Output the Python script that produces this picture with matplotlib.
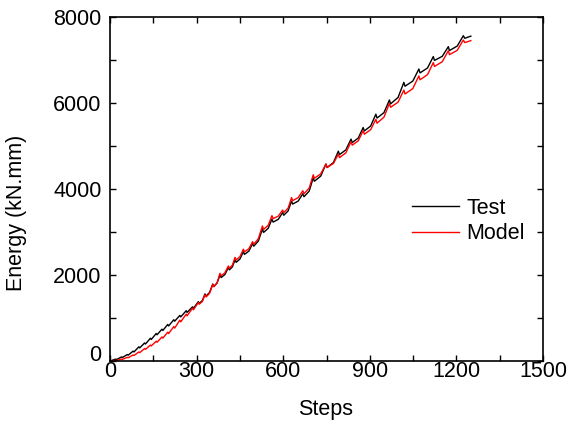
import numpy as np
import matplotlib
matplotlib.use("Agg")
import matplotlib.pyplot as plt
from matplotlib.ticker import MultipleLocator

plt.rcParams['font.family'] = ['Liberation Sans', 'DejaVu Sans']

#### Donnees : energie cumulee (kN.mm) en fonction du pas ####

# essai (Test) : pics, creux et montee de chaque cycle
steps_test = [0,
              20, 23, 40, 43, 60, 63, 80, 83, 100, 103, 120, 123, 140, 143,
              160, 163, 180, 183, 200, 203, 221, 224, 242, 245, 264, 267,
              286, 289, 306, 309, 320,
              329, 333, 345, 356, 360, 371, 381, 385, 398, 410, 414, 424,
              433, 437, 450, 462, 466, 481, 494, 498, 514, 528, 532, 548,
              561, 565, 583, 598, 602, 617, 629, 633, 652, 668, 672, 690,
              704, 708, 730, 748, 752, 774, 791, 795, 817, 835, 839, 860,
              877, 881, 903, 921, 925, 949, 968, 972, 998, 1018, 1022, 1049,
              1070, 1074, 1100, 1120, 1124, 1151, 1172, 1176, 1203,
              1224, 1229, 1250]
energy_test = [0,
               45, 35, 95, 82, 150, 135, 230, 210, 330, 305, 420, 395, 530, 500,
               640, 610, 740, 710, 850, 815, 960, 925, 1060, 1025, 1170, 1130,
               1260, 1225, 1380, 1340, 1405,
               1560, 1510, 1595, 1790, 1735, 1815, 2000, 1940, 2010, 2170, 2120, 2190,
               2350, 2295, 2370, 2540, 2480, 2555, 2730, 2670, 2790, 3070, 2990, 3085,
               3300, 3230, 3295, 3450, 3390, 3490, 3720, 3650, 3720, 3890, 3820, 3950,
               4260, 4180, 4300, 4580, 4500, 4615, 4880, 4800, 4910, 5160, 5080, 5185,
               5430, 5350, 5465, 5740, 5650, 5775, 6070, 5980, 6130, 6480, 6390, 6510,
               6790, 6700, 6815, 7080, 6990, 7085, 7310, 7220, 7325,
               7565, 7505, 7555]

# modele (Model)
steps_model = steps_test
energy_model = [0,
                15, 10, 45, 38, 85, 75, 140, 128, 210, 195, 290, 272, 370, 350,
                460, 435, 560, 532, 670, 638, 800, 765, 950, 910, 1090, 1050,
                1230, 1190, 1360, 1320, 1385,
                1540, 1490, 1575, 1780, 1725, 1820, 2040, 1980, 2050, 2210, 2155, 2230,
                2410, 2350, 2425, 2600, 2540, 2610, 2775, 2715, 2845, 3140, 3060, 3155,
                3380, 3310, 3370, 3510, 3450, 3555, 3800, 3730, 3800, 3960, 3890, 4020,
                4330, 4250, 4350, 4580, 4500, 4595, 4810, 4730, 4840, 5100, 5020, 5120,
                5355, 5275, 5380, 5620, 5530, 5670, 5990, 5900, 6020, 6300, 6210, 6335,
                6630, 6540, 6660, 6940, 6850, 6960, 7215, 7125, 7225,
                7465, 7405, 7450]

x_ticks = [0, 300, 600, 900, 1200, 1500]
y_ticks = [0, 2000, 4000, 6000, 8000]

#### Figure ####

fig = plt.figure(figsize=(5.68, 4.28), dpi=100)
ax = fig.add_axes([110/568, 1-361/428, 433/568, 344/428])

ax.plot(steps_test, energy_test, color='black', lw=1.0, label='Test')
ax.plot(steps_model, energy_model, color='red', lw=1.0, label='Model')

ax.set_xlim(0, 1500)
ax.set_ylim(0, 8000)
ax.set_xticks(x_ticks)
ax.set_yticks(y_ticks)
ax.xaxis.set_minor_locator(MultipleLocator(150))
ax.yaxis.set_minor_locator(MultipleLocator(1000))

for s in ax.spines.values():
    s.set_linewidth(1.2)
ax.tick_params(which='both', direction='in', top=True, right=True,
               length=4.5, width=1.0, labelsize=15.5)
ax.tick_params(axis='x', pad=0)
ax.tick_params(axis='y', pad=6)
# le "0" de l'axe y est remonte pour ne pas toucher celui de l'axe x
ax.yaxis.get_major_ticks()[0].label1.set_va('baseline')

fig.text(17/568, 1-213/428, 'Energy (kN.mm)', rotation=90,
         ha='center', va='center', fontsize=15.5)
fig.text(326/568, 1-410/428, 'Steps', ha='center', va='center', fontsize=15.5)

ax.legend(frameon=False, loc='center left', bbox_to_anchor=(0.697, 0.407),
          borderaxespad=0, borderpad=0, handlelength=2.2, handletextpad=0.35,
          labelspacing=0.2, fontsize=15.5)

fig.savefig('out.png', dpi=100)
